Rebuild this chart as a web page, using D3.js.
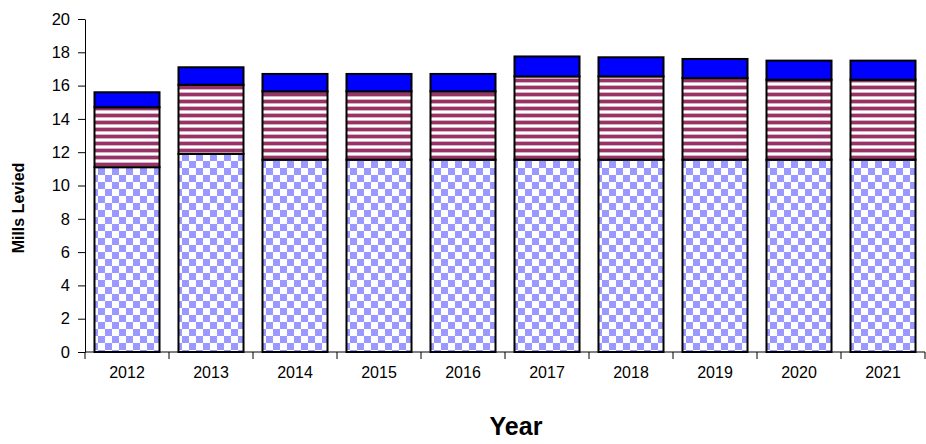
<!DOCTYPE html>
<html>
<head>
<meta charset="utf-8">
<script src="https://cdn.jsdelivr.net/npm/d3@7"></script>
<style>
  html, body { margin: 0; padding: 0; background: #fff; }
  svg { display: block; }
  text { font-family: "Liberation Sans", Arial, sans-serif; }
</style>
</head>
<body>
<svg id="chart" width="926" height="444"></svg>
<script>
// ---- data ----
const years = ["2012","2013","2014","2015","2016","2017","2018","2019","2020","2021"];
const baseLevy   = [11.1, 11.9, 11.55, 11.55, 11.55, 11.55, 11.55, 11.55, 11.55, 11.55];
const middleLevy = [3.6, 4.15, 4.1, 4.1, 4.1, 5.0, 5.0, 4.9, 4.8, 4.8];
const topLevy    = [0.9, 1.05, 1.05, 1.05, 1.05, 1.2, 1.15, 1.15, 1.15, 1.15];
const yTicks = [0, 2, 4, 6, 8, 10, 12, 14, 16, 18, 20];
const yTitle = "Mills Levied";
const xTitle = "Year";

const svg = d3.select("#chart");
const plot = { left: 85, right: 925, top: 19, bottom: 352 };

const x = d3.scaleBand().domain(years).range([plot.left, plot.right])
  .paddingInner(0.226).paddingOuter(0.113);
const y = d3.scaleLinear().domain([0, 20]).range([plot.bottom, plot.top]);

// patterns
const defs = svg.append("defs");
const checker = defs.append("pattern").attr("id", "checker")
  .attr("patternUnits", "userSpaceOnUse").attr("width", 14).attr("height", 14);
checker.append("rect").attr("width", 14).attr("height", 14).attr("fill", "#ffffff");
checker.append("rect").attr("x", 0).attr("y", 0).attr("width", 7).attr("height", 7).attr("fill", "#9999ff");
checker.append("rect").attr("x", 7).attr("y", 7).attr("width", 7).attr("height", 7).attr("fill", "#9999ff");

const stripes = defs.append("pattern").attr("id", "stripes")
  .attr("patternUnits", "userSpaceOnUse").attr("width", 8).attr("height", 7);
stripes.append("rect").attr("width", 8).attr("height", 7).attr("fill", "#ffffff");
stripes.append("rect").attr("y", 1).attr("width", 8).attr("height", 1).attr("fill", "#d6b0c3");
stripes.append("rect").attr("y", 2).attr("width", 8).attr("height", 3).attr("fill", "#993366");
stripes.append("rect").attr("y", 5).attr("width", 8).attr("height", 1).attr("fill", "#d6b0c3");

// stack
const rows = years.map((yr, i) => ({ year: yr, base: baseLevy[i], middle: middleLevy[i], top: topLevy[i] }));
const stack = d3.stack().keys(["base", "middle", "top"])(rows);
const fills = { base: "url(#checker)", middle: "url(#stripes)", top: "#0000ff" };

svg.append("g").selectAll("g").data(stack).join("g")
  .attr("fill", d => fills[d.key])
  .selectAll("rect").data(d => d).join("rect")
  .attr("x", d => x(d.data.year))
  .attr("width", x.bandwidth())
  .attr("y", d => y(d[1]))
  .attr("height", d => y(d[0]) - y(d[1]))
  .attr("stroke", "#000")
  .attr("stroke-width", 2);

// y axis
const yAxis = svg.append("g").attr("transform", `translate(${plot.left},0)`)
  .call(d3.axisLeft(y).tickValues(yTicks).tickSize(7).tickPadding(8).tickSizeOuter(0));
yAxis.select(".domain").attr("stroke", "#000");
yAxis.selectAll(".tick line").attr("stroke", "#000");
yAxis.selectAll("text").attr("font-size", 16.5).attr("fill", "#000")
  .attr("font-family", "'Liberation Sans', Arial, sans-serif");

// x axis: line, ticks at category boundaries, labels at centres
const xg = svg.append("g");
xg.append("line").attr("x1", plot.left).attr("x2", plot.right)
  .attr("y1", plot.bottom).attr("y2", plot.bottom).attr("stroke", "#000");
const step = x.step();
const bounds = d3.range(years.length + 1).map(i => plot.left + i * step);
xg.selectAll("line.tk").data(bounds).join("line").attr("class", "tk")
  .attr("x1", d => d).attr("x2", d => d)
  .attr("y1", plot.bottom).attr("y2", plot.bottom + 7).attr("stroke", "#000");
xg.selectAll("text").data(years).join("text")
  .attr("x", d => x(d) + x.bandwidth() / 2)
  .attr("y", plot.bottom + 26)
  .attr("text-anchor", "middle").attr("font-size", 16).attr("fill", "#000")
  .text(d => d);

// titles
svg.append("text")
  .attr("transform", `translate(24,208) rotate(-90)`)
  .attr("text-anchor", "middle").attr("font-size", 16).attr("font-weight", "bold")
  .text(yTitle);
svg.append("text").attr("x", 516).attr("y", 435)
  .attr("text-anchor", "middle").attr("font-size", 25).attr("font-weight", "bold")
  .text(xTitle);
</script>
</body>
</html>
